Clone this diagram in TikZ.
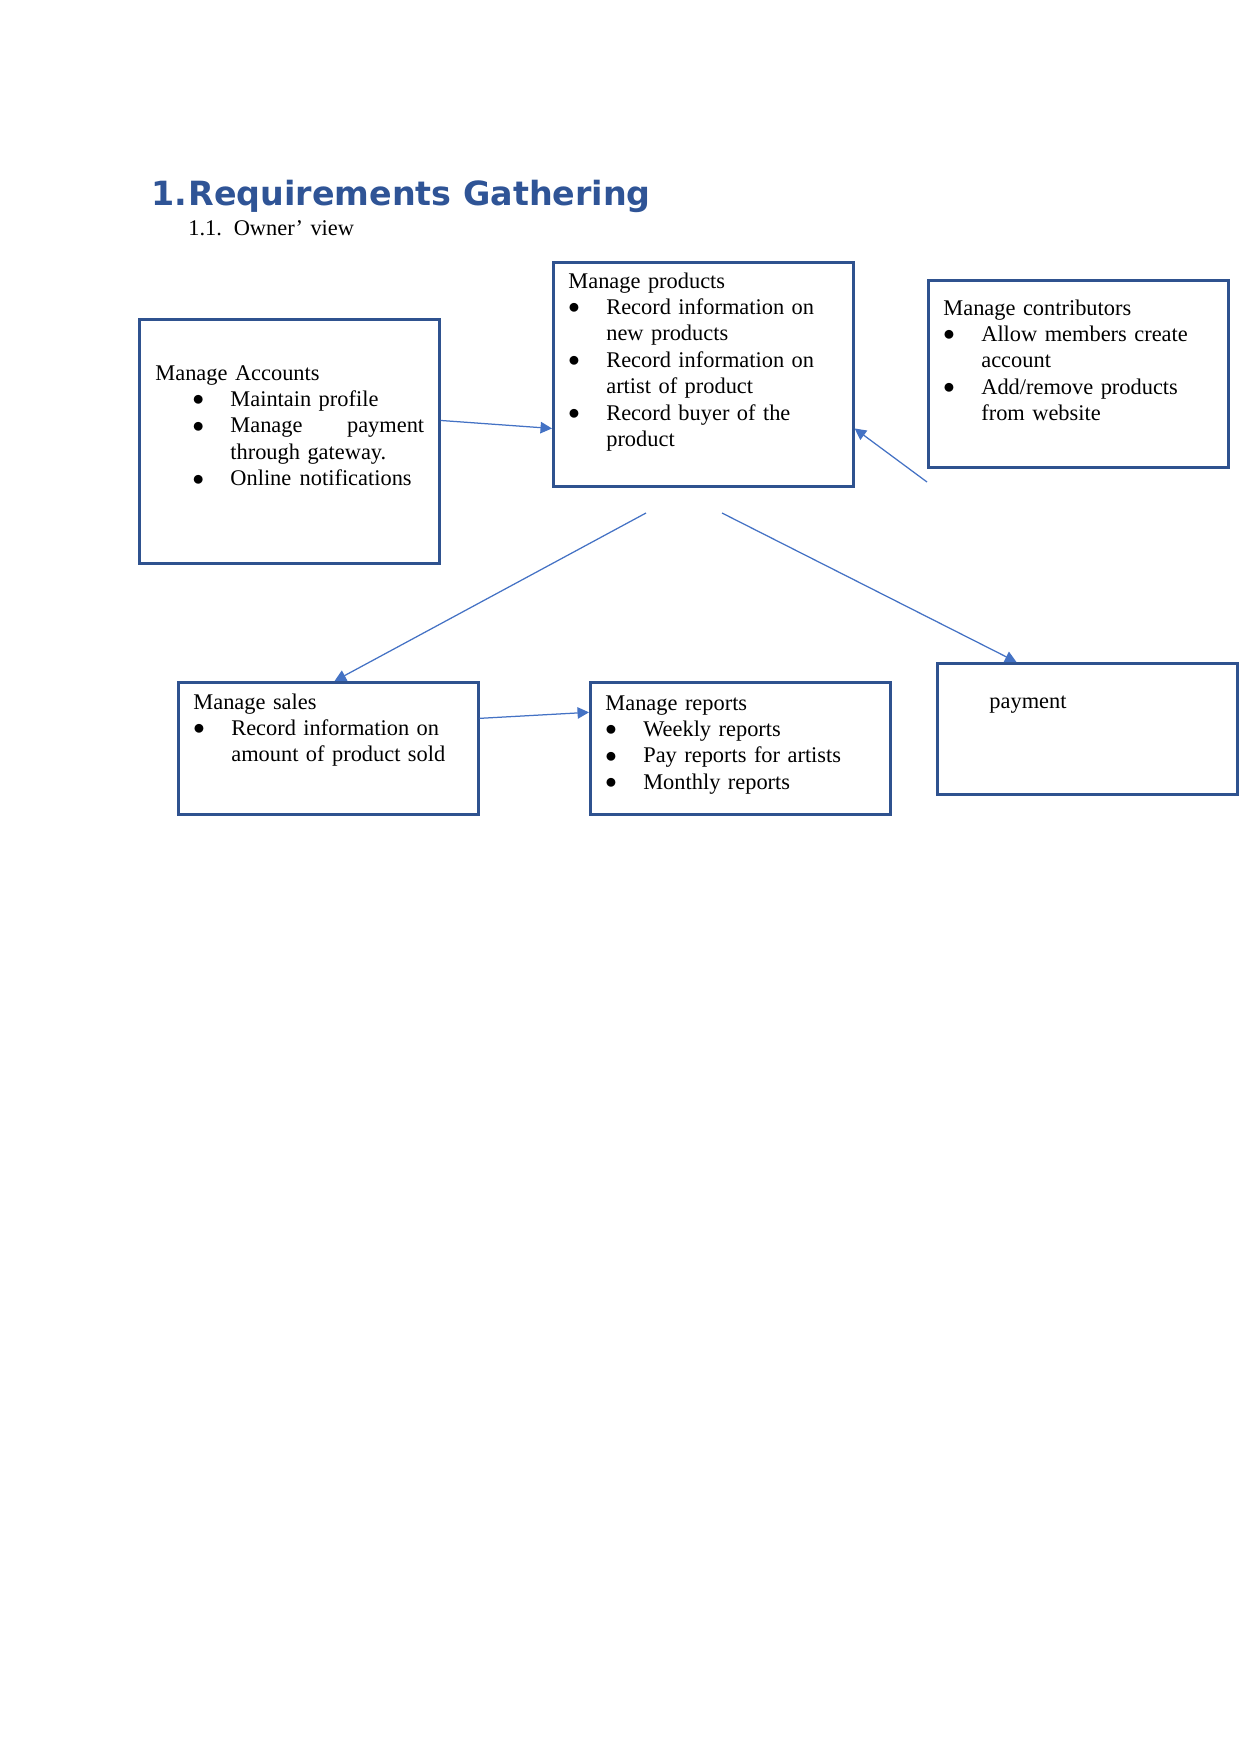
\documentclass[tikz,border=0pt]{standalone}
\usepackage{fontspec}
\setmainfont{Liberation Serif}
\newfontfamily\headfont{DejaVu Sans}
\usetikzlibrary{arrows.meta}
\definecolor{headblue}{RGB}{47,84,150}
\definecolor{boxblue}{RGB}{47,82,143}
\definecolor{linkblue}{RGB}{68,114,196}
\newcommand{\bitem}{\makebox[18.2pt][l]{\raisebox{0.3pt}{$\bullet$}}}
\newcommand{\bgap}{\hspace*{18.2pt}}
\tikzset{
    box/.style={draw=boxblue, line width=1.25pt, inner sep=0pt, anchor=north west, minimum width=144pt},
    txt/.style={anchor=base west, inner sep=0pt, text width=140pt, align=left, font=\fontsize{10.75pt}{12.7pt}\selectfont},
    link/.style={draw=linkblue, line width=0.6pt, -{Triangle[length=5.5pt,width=5.5pt]}}
}
\begin{document}
\begin{tikzpicture}[x=0.48pt, y=-0.48pt]
    \useasboundingbox (0,0) rectangle (1241,1754);
    \node[anchor=base west, inner sep=0pt, text=headblue, font=\headfont\bfseries\fontsize{16pt}{19pt}\selectfont] (title) at (151,205) {\makebox[17.8pt][l]{1.}Requirements Gathering};
    \node[txt] (subtitle) at (188,235) {\makebox[21.8pt][l]{1.1.}Owner’ view};

    \node[box, minimum height=117.1pt] (accounts) at (138,318) {};
    \node[box, minimum height=107.5pt] (products) at (552,261) {};
    \node[box, minimum height=89.8pt] (contributors) at (927,279) {};
    \node[box, minimum height=63.4pt] (sales) at (177,681) {};
    \node[box, minimum height=63.4pt] (reports) at (589,681) {};
    \node[box, minimum height=62.9pt] (payment) at (936,662) {};

    \node[txt] (accountstext) at (155,380) {Manage Accounts\\
        \hspace*{17.8pt}\bitem Maintain profile\\
        \hspace*{17.8pt}\bitem \makebox[93pt][s]{Manage\hfill payment}\\
        \hspace*{36pt}through gateway.\\
        \hspace*{17.8pt}\bitem Online\hspace{4pt}notifications};
    \node[txt] (productstext) at (568,288) {Manage products\\
        \bitem Record information on\\
        \bgap new products\\
        \bitem Record information on\\
        \bgap artist of product\\
        \bitem Record buyer of the\\
        \bgap product};
    \node[txt] (contributorstext) at (943,315) {Manage contributors\\
        \bitem Allow members create\\
        \bgap account\\
        \bitem Add/remove products\\
        \bgap from website};
    \node[txt] (salestext) at (193,709) {Manage sales\\
        \bitem Record information on\\
        \bgap amount of product sold};
    \node[txt] (reportstext) at (605,710) {Manage reports\\
        \bitem Weekly reports\\
        \bitem Pay reports for artists\\
        \bitem Monthly reports};
    \node[txt] (paymenttext) at (989,708) {payment};

    \coordinate (contribtail) at (927,482);
    \coordinate (salestail) at (646,513);
    \coordinate (paytail) at (722,513);

    \draw[link] ([yshift=10pt]accounts.east) -- ([yshift=-26pt]products.west);
    \draw[link] (contribtail) -- ([yshift=-26pt]products.east);
    \draw[link] (salestail) -- ([xshift=3pt]sales.north);
    \draw[link] (paytail) -- ([xshift=-34pt]payment.north);
    \draw[link] ([yshift=14.4pt]sales.east) -- ([yshift=17.3pt]reports.west);
\end{tikzpicture}
\end{document}
